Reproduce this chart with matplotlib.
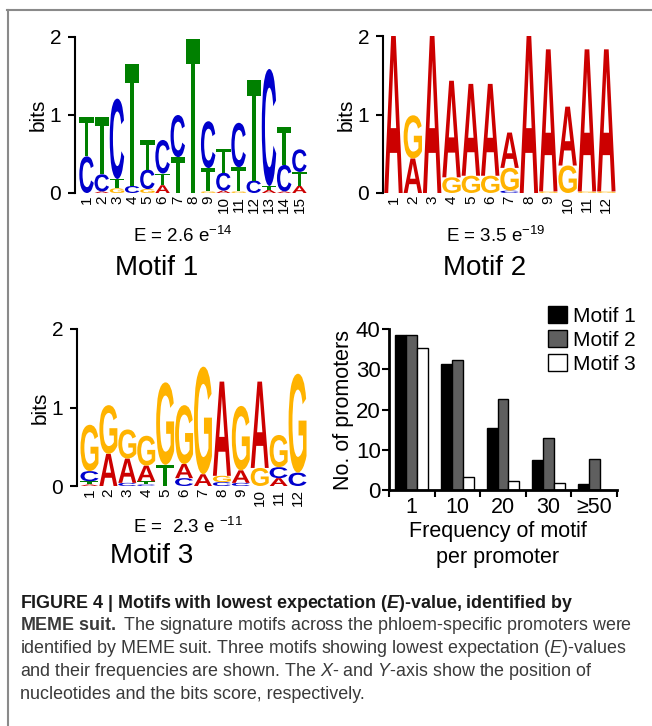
import matplotlib
matplotlib.use('Agg')
import matplotlib.pyplot as plt
import matplotlib.transforms as mtrans
from matplotlib.textpath import TextPath
from matplotlib.patches import PathPatch
from matplotlib.font_manager import FontProperties
from matplotlib.lines import Line2D

plt.rcParams['font.family'] = ['Liberation Sans', 'DejaVu Sans']
plt.rcParams['mathtext.fontset'] = 'custom'
plt.rcParams['mathtext.rm'] = 'Liberation Sans'
plt.rcParams['mathtext.it'] = 'Liberation Sans:italic'
plt.rcParams['mathtext.bf'] = 'Liberation Sans:bold'
plt.rcParams['mathtext.bfit'] = 'Liberation Sans:bold:italic'

# letter stacks per position, bottom -> top, heights in bits
motif1 = [
    [('C', 0.47), ('T', 0.51)],
    [('A', 0.02), ('C', 0.22), ('T', 0.74)],
    [('G', 0.06), ('T', 0.12), ('C', 1.03)],
    [('C', 0.09), ('T', 1.57)],
    [('G', 0.05), ('C', 0.25), ('T', 0.38)],
    [('A', 0.10), ('T', 0.15), ('C', 0.43)],
    [('T', 0.46), ('C', 0.54)],
    [('T', 1.97)],
    [('G', 0.02), ('T', 0.30), ('C', 0.60)],
    [('A', 0.03), ('C', 0.23), ('T', 0.31)],
    [('G', 0.02), ('T', 0.31), ('C', 0.57)],
    [('C', 0.16), ('T', 1.29)],
    [('A', 0.04), ('T', 0.05), ('C', 1.50)],
    [('A', 0.02), ('C', 0.34), ('T', 0.49)],
    [('A', 0.09), ('T', 0.18), ('C', 0.29)],
]
motif2 = [
    [('A', 2.0)],
    [('A', 0.44), ('G', 0.55)],
    [('A', 2.0)],
    [('G', 0.20), ('A', 1.23)],
    [('G', 0.22), ('A', 1.17)],
    [('G', 0.22), ('A', 1.17)],
    [('C', 0.03), ('G', 0.29), ('A', 0.45)],
    [('A', 2.0)],
    [('G', 0.02), ('A', 1.81)],
    [('G', 0.35), ('A', 0.75)],
    [('G', 0.02), ('A', 1.81)],
    [('G', 0.02), ('A', 1.81)],
]
motif3 = [
    [('A', 0.02), ('T', 0.04), ('C', 0.13), ('G', 0.59)],
    [('A', 0.41), ('G', 0.62)],
    [('C', 0.04), ('A', 0.31), ('G', 0.37)],
    [('C', 0.02), ('T', 0.04), ('A', 0.20), ('G', 0.38)],
    [('T', 0.27), ('G', 1.05)],
    [('C', 0.10), ('A', 0.18), ('G', 0.75)],
    [('A', 0.15), ('G', 1.37)],
    [('C', 0.05), ('G', 0.08), ('A', 1.20)],
    [('C', 0.04), ('A', 0.16), ('G', 0.82)],
    [('G', 0.23), ('A', 1.10)],
    [('A', 0.10), ('C', 0.14), ('G', 0.41)],
    [('C', 0.17), ('G', 1.26)],
]
e_values = ['E = 2.6 e$^{-14}$', 'E = 3.5 e$^{-19}$', 'E =  2.3 e $^{-11}$']

# bar chart
freq_labels = ['1', '10', '20', '30', '≥50']
counts_m1 = [38.4, 31.3, 15.4, 7.4, 1.4]
counts_m2 = [38.4, 32.3, 22.6, 12.8, 7.6]
counts_m3 = [35.4, 3.3, 2.2, 1.7, 0]
bar_series = ['Motif 1', 'Motif 2', 'Motif 3']

base_colors = {'A': '#cc0000', 'C': '#0000cc', 'G': '#ffb300', 'T': '#008000'}
letter_font = FontProperties(family='Liberation Sans', weight='bold')

W, H = 652, 726
fig = plt.figure(figsize=(W / 100, H / 100), dpi=100)


def px_axes(l, t, r, b):
    return fig.add_axes([l / W, 1 - b / H, (r - l) / W, (b - t) / H])


def draw_letter(ax, ch, x, y, w, h):
    tp = TextPath((0, 0), ch, size=1, prop=letter_font)
    bb = tp.get_extents()
    tr = mtrans.Affine2D().translate(-bb.x0, -bb.y0) \
        .scale(w / bb.width, h / bb.height).translate(x - w / 2, y)
    ax.add_patch(PathPatch(tr.transform_path(tp), fc=base_colors[ch], ec='none'))


def logo(ax, stacks, xmin):
    n = len(stacks)
    for i, stack in enumerate(stacks):
        y = 0
        for ch, h in stack:
            draw_letter(ax, ch, i + 1, y, 0.95, h)
            y += h
    ax.set_xlim(xmin, n + 0.5)
    ax.set_ylim(0, 2)
    for s in ['top', 'right', 'bottom']:
        ax.spines[s].set_visible(False)
    ax.spines['left'].set_linewidth(1.5)
    ax.set_yticks([0, 1, 2])
    ax.tick_params(axis='y', direction='out', length=5, width=1.5, pad=5, labelsize=15)
    ax.set_xticks(range(1, n + 1))
    ax.set_xticklabels([str(i) for i in range(1, n + 1)], rotation=90, fontsize=11)
    ax.tick_params(axis='x', length=0, pad=2)
    ax.set_ylabel('bits', fontsize=15, labelpad=1)


ax1 = px_axes(75, 37, 307, 193)
logo(ax1, motif1, 0.24)
ax2 = px_axes(383, 36, 616, 193)
logo(ax2, motif2, 0.46)
ax3 = px_axes(77, 329, 307, 486)
logo(ax3, motif3, 0.34)

fig.text(183 / W, 1 - 236 / H, e_values[0], ha='center', va='center', fontsize=13.5)
fig.text(496 / W, 1 - 236 / H, e_values[1], ha='center', va='center', fontsize=13.5)
fig.text(188 / W, 1 - 527 / H, e_values[2], ha='center', va='center', fontsize=13.5)
fig.text(157 / W, 1 - 268 / H, 'Motif 1', ha='center', va='center', fontsize=20)
fig.text(485 / W, 1 - 268 / H, 'Motif 2', ha='center', va='center', fontsize=20)
fig.text(152 / W, 1 - 556 / H, 'Motif 3', ha='center', va='center', fontsize=20)

# frequency bar chart
axb = px_axes(389, 329, 617, 490)
x = range(len(freq_labels))
bw = 0.24
axb.bar([i - bw for i in x], counts_m1, bw, color='black', edgecolor='black', lw=1, label=bar_series[0])
axb.bar(list(x), counts_m2, bw, color='#5f5f5f', edgecolor='black', lw=1, label=bar_series[1])
axb.bar([i + bw for i in x], counts_m3, bw, color='white', edgecolor='black', lw=1, label=bar_series[2])
axb.set_xlim(-0.5, 4.5)
axb.set_ylim(0, 40)
axb.spines['top'].set_visible(False)
axb.spines['right'].set_visible(False)
axb.spines['left'].set_linewidth(2)
axb.spines['bottom'].set_linewidth(2)
axb.set_yticks([0, 10, 20, 30, 40])
axb.tick_params(axis='y', direction='out', length=5, width=1.5, pad=1, labelsize=16)
axb.set_xticks(list(x))
axb.set_xticklabels(freq_labels)
axb.tick_params(axis='x', which='major', length=0, pad=5, labelsize=15.5)
axb.set_xticks([i - 0.5 for i in range(len(freq_labels) + 1)], minor=True)
axb.tick_params(axis='x', which='minor', direction='out', length=5, width=1.5)
axb.set_ylabel('No. of promoters', fontsize=15.5, labelpad=1)
fig.text(498 / W, 1 - 532 / H, 'Frequency of motif', ha='center', va='center', fontsize=15.5)
fig.text(498 / W, 1 - 557 / H, 'per promoter', ha='center', va='center', fontsize=15.5)
axb.legend(loc='upper left', bbox_to_anchor=(548 / W, 1 - 306 / H), bbox_transform=fig.transFigure,
           frameon=False, fontsize=15, handlelength=0.9, handleheight=0.9, handletextpad=0.3,
           labelspacing=0.2, borderpad=0, borderaxespad=0)

# caption
cap = [
    ('FIGURE 4 | Motifs with lowest expectation ($\\mathbfit{E}$)-value, identified by', 'bold'),
    ('$\\mathbf{MEME\\ suit.}$ The signature motifs across the phloem-specific promoters were', 'normal'),
    ('identified by MEME suit. Three motifs showing lowest expectation ($\\mathit{E}$)-values', 'normal'),
    ('and their frequencies are shown. The $\\mathit{X}$- and $\\mathit{Y}$-axis show the position of', 'normal'),
    ('nucleotides and the bits score, respectively.', 'normal'),
]
for k, (line, wt) in enumerate(cap):
    fig.text(20 / W, 1 - (603 + 22.8 * k) / H, line, ha='left', va='center', fontsize=12.9,
             fontweight=wt, color='#1a1a1a' if wt == 'bold' else '#3a3a3a')

# frame lines
fig.add_artist(Line2D([7 / W, 1], [1 - 10 / H, 1 - 10 / H], transform=fig.transFigure, color='#8a8a8a', lw=1.5))
fig.add_artist(Line2D([7.5 / W, 7.5 / W], [1 - 10 / H, 0], transform=fig.transFigure, color='#8a8a8a', lw=1.5))

fig.savefig('out.png', dpi=100)
